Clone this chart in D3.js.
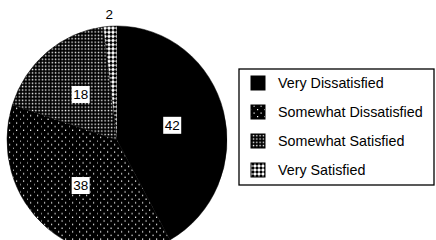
<!DOCTYPE html>
<html>
<head>
<meta charset="utf-8">
<script src="https://cdn.jsdelivr.net/npm/d3@7"></script>
<style>
  body { margin: 0; background: #fff; }
  svg { display: block; font-family: "Liberation Sans", Arial, sans-serif; }
</style>
</head>
<body>
<svg id="chart" width="436" height="240"></svg>
<script>
// --- Data ---
const categories = ["Very Dissatisfied", "Somewhat Dissatisfied", "Somewhat Satisfied", "Very Satisfied"];
const values = [42, 38, 18, 2];
const fills = ["solid", "sparse", "dense", "check"];

const svg = d3.select("#chart");

// --- Patterns ---
const defs = svg.append("defs");

const sparse = defs.append("pattern").attr("id", "sparse")
    .attr("patternUnits", "userSpaceOnUse").attr("width", 7).attr("height", 7);
sparse.append("rect").attr("width", 7).attr("height", 7).attr("fill", "#000");
sparse.append("rect").attr("x", 0.5).attr("y", 0.5).attr("width", 1.2).attr("height", 1.2).attr("fill", "#fff");
sparse.append("rect").attr("x", 4).attr("y", 4).attr("width", 1.2).attr("height", 1.2).attr("fill", "#fff");

const dense = defs.append("pattern").attr("id", "dense")
    .attr("patternUnits", "userSpaceOnUse").attr("width", 3.3).attr("height", 3.3);
dense.append("rect").attr("width", 3.3).attr("height", 3.3).attr("fill", "#000");
dense.append("rect").attr("x", 0.6).attr("y", 0.6).attr("width", 1.4).attr("height", 1.4).attr("fill", "#fff");

const check = defs.append("pattern").attr("id", "check")
    .attr("patternUnits", "userSpaceOnUse").attr("width", 4).attr("height", 4);
check.append("rect").attr("width", 4).attr("height", 4).attr("fill", "#fff");
check.append("path").attr("d", "M2,0L4,2L2,4L0,2Z").attr("fill", "#000");

const fillOf = k => k === "solid" ? "#000" : `url(#${k})`;

// --- Pie ---
const cx = 117, cy = 140, rx = 110, ry = 114;

const pie = d3.pie().sort(null).value(d => d.v);
const arcs = pie(values.map((v, i) => ({ v, name: categories[i], fill: fills[i] })));
const arc = d3.arc().innerRadius(0).outerRadius(rx);

const g = svg.append("g").attr("transform", `translate(${cx},${cy})`);
const slices = g.append("g").attr("transform", `scale(1,${ry / rx})`);

slices.selectAll("path")
    .data(arcs)
    .join("path")
    .attr("d", arc)
    .attr("fill", d => fillOf(d.data.fill))
    .attr("stroke", "#000")
    .attr("stroke-width", 0.5);

// labels
const inner = d3.arc().innerRadius(57).outerRadius(57);
const outer = d3.arc().innerRadius(122).outerRadius(122);

arcs.forEach(d => {
    const small = d.data.v < 5;
    const [x, y] = (small ? outer : inner).centroid(d);
    const lx = x, ly = y * ry / rx;
    const lab = g.append("g").attr("transform", `translate(${lx},${ly})`);
    if (!small) {
        lab.append("rect")
            .attr("x", -9).attr("y", -8.5).attr("width", 18).attr("height", 17)
            .attr("fill", "#fff");
    }
    lab.append("text")
        .attr("text-anchor", "middle")
        .attr("dy", "0.36em")
        .attr("font-size", 13.5)
        .attr("fill", "#000")
        .text(d.data.v);
});

// --- Legend ---
const legend = svg.append("g").attr("transform", "translate(239,69)");
legend.append("rect")
    .attr("x", 0).attr("y", 0).attr("width", 195).attr("height", 116)
    .attr("fill", "#fff").attr("stroke", "#000").attr("stroke-width", 1.3);

const rowY = d3.scalePoint().domain(categories).range([14, 101]);

const rows = legend.selectAll("g.row")
    .data(categories)
    .join("g")
    .attr("class", "row")
    .attr("transform", d => `translate(0,${rowY(d)})`);

rows.append("rect")
    .attr("x", 12).attr("y", -7).attr("width", 14).attr("height", 14)
    .attr("fill", (d, i) => fillOf(fills[i]))
    .attr("stroke", "#000").attr("stroke-width", 1);

rows.append("text")
    .attr("x", 39)
    .attr("dy", "0.36em")
    .attr("font-size", 14.3)
    .attr("fill", "#000")
    .text(d => d);
</script>
</body>
</html>
